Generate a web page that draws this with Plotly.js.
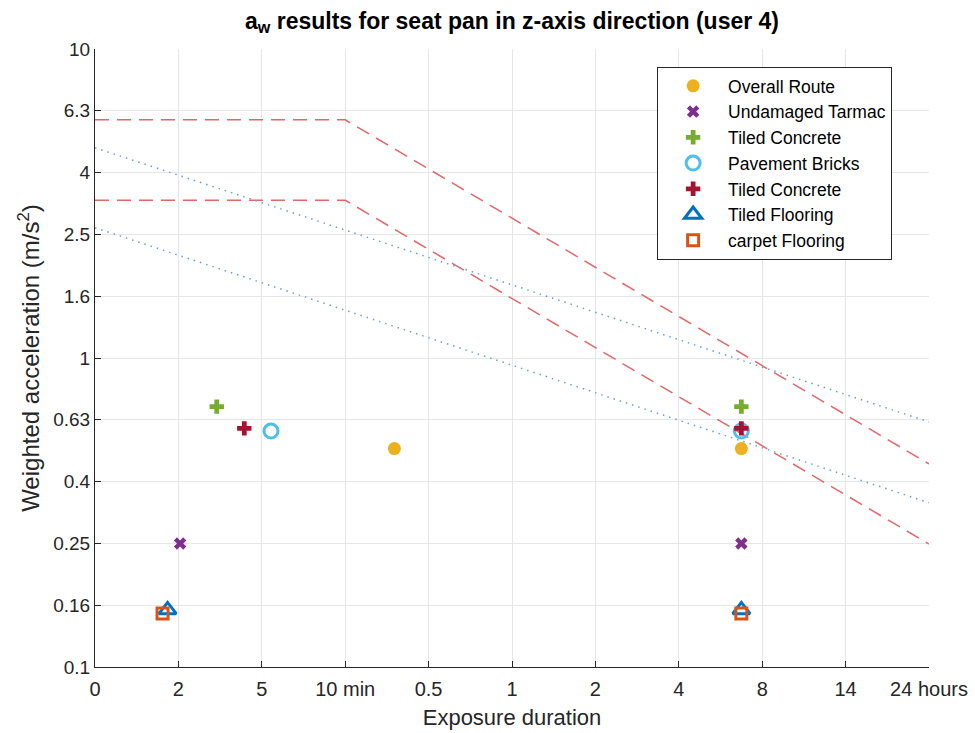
<!DOCTYPE html>
<html>
<head>
<meta charset="utf-8">
<script src="https://cdn.plot.ly/plotly-3.0.1.min.js"></script>
<style>
  html, body { margin: 0; padding: 0; background: #ffffff; }
  #chart { width: 975px; height: 733px; }
</style>
</head>
<body>
<div id="chart"></div>
<script>
// Exposure-duration axis: evenly spaced positions with time labels
const durationTickPos = [0, 1, 2, 3, 4, 5, 6, 7, 8, 9, 10];
const durationTickText = ['0', '2', '5', '10 min', '0.5', '1', '2', '4', '8', '14', '24 hours'];

// Weighted acceleration axis ticks (R10 series)
const accelTickVals = [0.1, 0.158, 0.251, 0.398, 0.631, 1, 1.585, 2.512, 3.981, 6.31, 10];
const accelTickText = ['0.1', '0.16', '0.25', '0.4', '0.63', '1', '1.6', '2.5', '4', '6.3', '10'];

// Measured a_w per surface: [measured duration position, daily exposure position]
const overallX = [3.59, 7.75];
const overallY = [0.509, 0.509];
const tarmacX = [1.02, 7.75];
const tarmacY = [0.251, 0.251];
const concreteGreenX = [1.46, 7.75];
const concreteGreenY = [0.696, 0.696];
const bricksX = [2.11, 7.75];
const bricksY = [0.580, 0.580];
const concreteRedX = [1.79, 7.75];
const concreteRedY = [0.592, 0.592];
const flooringX = [0.87, 7.75];
const flooringY = [0.153, 0.153];
const carpetX = [0.81, 7.75];
const carpetY = [0.149, 0.149];

// Health guidance caution zone bounds (dashed)
const hgczX = [0, 3, 10];
const hgczUpper = [5.9, 5.9, 0.454];
const hgczLower = [3.24, 3.24, 0.25];

// Alternative guidance bounds (dotted)
const altX = [0, 10];
const altUpper = [4.79, 0.621];
const altLower = [2.64, 0.34];

const dashColor = '#e0676a';
const dotColor = '#6f9fc6';

const traces = [
  { x: hgczX, y: hgczUpper, mode: 'lines', showlegend: false, hoverinfo: 'skip',
    line: { color: dashColor, width: 1.5, dash: '14px,8px' } },
  { x: hgczX, y: hgczLower, mode: 'lines', showlegend: false, hoverinfo: 'skip',
    line: { color: dashColor, width: 1.5, dash: '14px,8px' } },
  { x: altX, y: altUpper, mode: 'lines', showlegend: false, hoverinfo: 'skip',
    line: { color: dotColor, width: 1.5, dash: '1.5px,5px' } },
  { x: altX, y: altLower, mode: 'lines', showlegend: false, hoverinfo: 'skip',
    line: { color: dotColor, width: 1.5, dash: '1.5px,5px' } },

  { name: 'Overall Route', x: overallX, y: overallY, mode: 'markers',
    marker: { symbol: 'circle', size: 13, color: '#EDB120' } },
  { name: 'Undamaged Tarmac', x: tarmacX, y: tarmacY, mode: 'markers',
    marker: { symbol: 'x', size: 11, color: '#7E2F8E' } },
  { name: 'Tiled Concrete', x: concreteGreenX, y: concreteGreenY, mode: 'markers',
    marker: { symbol: 'cross', size: 12, color: '#77AC30' } },
  { name: 'Pavement Bricks', x: bricksX, y: bricksY, mode: 'markers',
    marker: { symbol: 'circle-open', size: 14, color: '#4DBEEE', line: { width: 3, color: '#4DBEEE' } } },
  { name: 'Tiled Concrete', x: concreteRedX, y: concreteRedY, mode: 'markers',
    marker: { symbol: 'cross', size: 12, color: '#A2142F' } },
  { name: 'Tiled Flooring', x: flooringX, y: flooringY, mode: 'markers',
    marker: { symbol: 'triangle-up-open', size: 15, color: '#0072BD', line: { width: 3, color: '#0072BD' } } },
  { name: 'carpet Flooring', x: carpetX, y: carpetY, mode: 'markers',
    marker: { symbol: 'square-open', size: 11, color: '#D95319', line: { width: 3, color: '#D95319' } } }
];

const fontFamily = '"Liberation Sans", Arial, Helvetica, sans-serif';

const layout = {
  width: 975,
  height: 733,
  margin: { l: 95, r: 46, t: 49, b: 66 },
  paper_bgcolor: '#ffffff',
  plot_bgcolor: '#ffffff',
  font: { family: fontFamily, color: '#262626', size: 18 },
  title: {
    text: '<b>a<sub>w</sub> results for seat pan in z-axis direction (user 4)</b>',
    font: { family: fontFamily, size: 23, color: '#000000' },
    xref: 'paper', x: 0.5, xanchor: 'center',
    yref: 'container', y: 0.972, yanchor: 'middle'
  },
  xaxis: {
    range: [0, 10],
    tickmode: 'array',
    tickvals: durationTickPos,
    ticktext: durationTickText,
    ticks: 'inside', ticklen: 6, tickcolor: '#262626',
    ticklabelstandoff: 4,
    showline: true, linecolor: '#262626', linewidth: 1,
    showgrid: true, gridcolor: '#e6e6e6', gridwidth: 1,
    zeroline: false,
    tickfont: { size: 20, color: '#262626' },
    title: { text: 'Exposure duration', font: { size: 22, color: '#262626' }, standoff: 10 }
  },
  yaxis: {
    type: 'log',
    range: [-1, 1],
    tickmode: 'array',
    tickvals: accelTickVals,
    ticktext: accelTickText,
    ticks: 'inside', ticklen: 6, tickcolor: '#262626',
    showline: true, linecolor: '#262626', linewidth: 1,
    showgrid: true, gridcolor: '#e6e6e6', gridwidth: 1,
    zeroline: false,
    tickfont: { size: 19, color: '#262626' },
    title: { text: 'Weighted acceleration (m/s<sup>2</sup>)', font: { size: 24, color: '#262626' }, standoff: 6 }
  },
  legend: {
    x: 0.674, y: 0.971, xanchor: 'left', yanchor: 'top',
    bgcolor: '#ffffff', bordercolor: '#262626', borderwidth: 1,
    font: { size: 17.5, color: '#000000' },
    itemwidth: 60,
    tracegroupgap: 0
  },
  showlegend: true
};

Plotly.newPlot('chart', traces, layout, { staticPlot: true, displayModeBar: false });
</script>
</body>
</html>
